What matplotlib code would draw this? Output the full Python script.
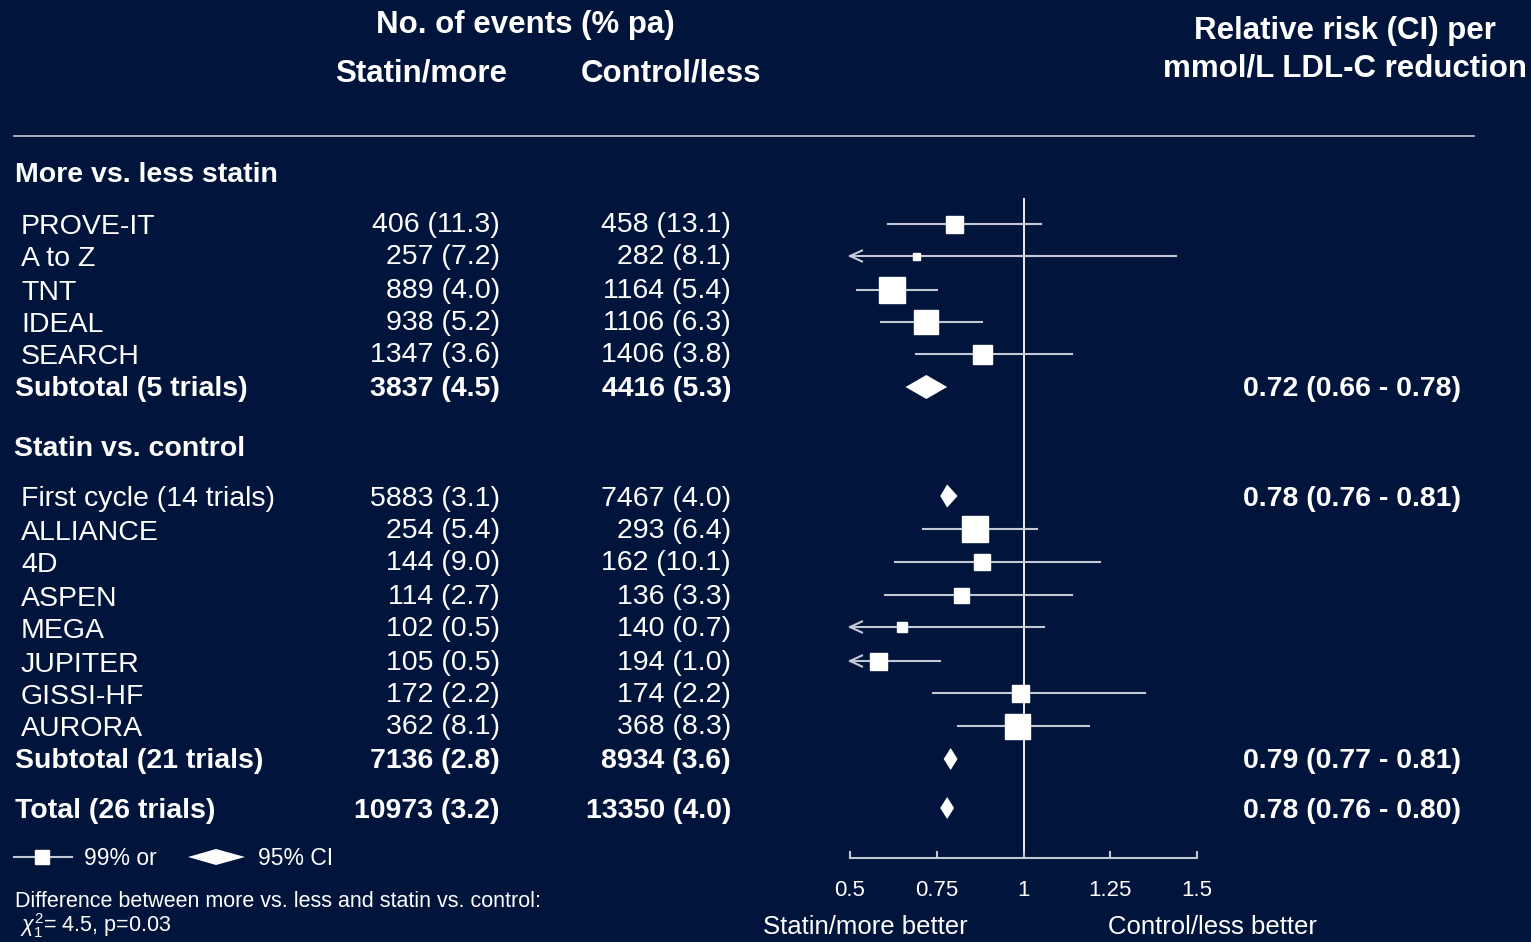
import matplotlib
matplotlib.use("Agg")
import matplotlib.pyplot as plt
from matplotlib.patches import Polygon

plt.rcParams["font.family"] = ["Liberation Sans", "DejaVu Sans"]
plt.rcParams["mathtext.fontset"] = "custom"
plt.rcParams["mathtext.rm"] = "Liberation Sans"
plt.rcParams["mathtext.it"] = "Liberation Sans:italic"

# ---------------- data ----------------
more_less_trials = ["PROVE-IT", "A to Z", "TNT", "IDEAL", "SEARCH"]
more_less_statin_events = [406, 257, 889, 938, 1347]
more_less_statin_rate = [11.3, 7.2, 4.0, 5.2, 3.6]
more_less_control_events = [458, 282, 1164, 1106, 1406]
more_less_control_rate = [13.1, 8.1, 5.4, 6.3, 3.8]
more_less_rr = [0.80, 0.69, 0.62, 0.72, 0.88]
more_less_lo = [0.61, 0.46, 0.52, 0.59, 0.69]
more_less_hi = [1.05, 1.44, 0.75, 0.88, 1.14]

statin_trials = ["ALLIANCE", "4D", "ASPEN", "MEGA", "JUPITER", "GISSI-HF", "AURORA"]
statin_statin_events = [254, 144, 114, 102, 105, 172, 362]
statin_statin_rate = [5.4, 9.0, 2.7, 0.5, 0.5, 2.2, 8.1]
statin_control_events = [293, 162, 136, 140, 194, 174, 368]
statin_control_rate = [6.4, 10.1, 3.3, 0.7, 1.0, 2.2, 8.3]
statin_rr = [0.86, 0.88, 0.82, 0.65, 0.58, 0.99, 0.98]
statin_lo = [0.71, 0.63, 0.60, 0.40, 0.42, 0.74, 0.81]
statin_hi = [1.04, 1.22, 1.14, 1.06, 0.76, 1.35, 1.19]

summary_labels = ["Subtotal (5 trials)", "First cycle (14 trials)",
                  "Subtotal (21 trials)", "Total (26 trials)"]
summary_statin_events = [3837, 5883, 7136, 10973]
summary_statin_rate = [4.5, 3.1, 2.8, 3.2]
summary_control_events = [4416, 7467, 8934, 13350]
summary_control_rate = [5.3, 4.0, 3.6, 4.0]
summary_rr = [0.72, 0.78, 0.79, 0.78]
summary_lo = [0.66, 0.76, 0.77, 0.76]
summary_hi = [0.78, 0.81, 0.81, 0.80]

x_ticks = [0.5, 0.75, 1, 1.25, 1.5]
x_tick_labels = ["0.5", "0.75", "1", "1.25", "1.5"]

# ---------------- layout & style ----------------
W, H = 1531, 942
BG = "#01153C"
FG = "#FFFFFF"
LINE = "#C3C8D4"
FS = 20.5
FS_HEAD = 22.5
TEXT_DY = 2.5

more_less_y = [224, 256, 290, 322, 354]
statin_y = [529, 562, 595, 627, 661, 693, 726]
summary_y = [387, 496, 759, 808]
more_less_box = [17, 7, 27, 24, 19]
statin_box = [27, 16, 15, 10, 17, 17, 25]
summary_h = [24, 23, 22, 22]
summary_bold = [True, False, True, True]

fig = plt.figure(figsize=(W / 100, H / 100), dpi=100, facecolor=BG)

# text layer in pixel coordinates
ax_t = fig.add_axes([0, 0, 1, 1], zorder=0)
ax_t.set_xlim(0, W)
ax_t.set_ylim(H, 0)
ax_t.axis("off")
ax_t.set_facecolor(BG)


def txt(x, y, s, size=FS, bold=False, ha="left", **kw):
    ax_t.text(x, y + TEXT_DY, s, fontsize=size, color=FG, ha=ha, va="center",
              fontweight="bold" if bold else "normal", **kw)


def fmt(n, r):
    return f"{n} ({r:.1f})"


# headers
txt(525, 22, "No. of events (% pa)", size=FS_HEAD, bold=True, ha="center")
txt(421, 71, "Statin/more", size=FS_HEAD, bold=True, ha="center")
txt(671, 71, "Control/less", size=FS_HEAD, bold=True, ha="center")
txt(1345, 28, "Relative risk (CI) per", size=FS_HEAD, bold=True, ha="center")
txt(1345, 66, "mmol/L LDL-C reduction", size=FS_HEAD, bold=True, ha="center")
ax_t.plot([14, 1474], [136, 136], color=LINE, lw=1.2)

txt(15, 172, "More vs. less statin", bold=True)
txt(14, 447, "Statin vs. control", bold=True)

X_NAME, X_BOLD, X_STATIN, X_CONTROL, X_RR = 21, 15, 500, 731, 1243

for name, y, se, sr, ce, cr in zip(more_less_trials, more_less_y,
                                   more_less_statin_events, more_less_statin_rate,
                                   more_less_control_events, more_less_control_rate):
    txt(X_NAME, y + 1, name)
    txt(X_STATIN, y - 1, fmt(se, sr), ha="right")
    txt(X_CONTROL, y - 1, fmt(ce, cr), ha="right")

for name, y, se, sr, ce, cr in zip(statin_trials, statin_y,
                                   statin_statin_events, statin_statin_rate,
                                   statin_control_events, statin_control_rate):
    txt(X_NAME, y + 1, name)
    txt(X_STATIN, y - 1, fmt(se, sr), ha="right")
    txt(X_CONTROL, y - 1, fmt(ce, cr), ha="right")

for lab, y, se, sr, ce, cr, rr, lo, hi, b in zip(
        summary_labels, summary_y, summary_statin_events, summary_statin_rate,
        summary_control_events, summary_control_rate,
        summary_rr, summary_lo, summary_hi, summary_bold):
    txt(X_BOLD if b else X_NAME, y, lab, bold=b)
    txt(X_STATIN, y, fmt(se, sr), bold=b, ha="right")
    txt(X_CONTROL, y, fmt(ce, cr), bold=b, ha="right")
    txt(X_RR, y, f"{rr:.2f} ({lo:.2f} - {hi:.2f})", bold=True)

# legend
ax_t.plot([14, 72], [857, 857], color=LINE, lw=1.5)
ax_t.plot([42], [857], marker="s", ms=14 * 0.72, color=FG, mec=FG)
ax_t.add_patch(Polygon([(188, 857), (216, 849), (245, 857), (216, 865)],
                       closed=True, color=FG, lw=0))
txt(84, 856, "99% or", size=16.5)
txt(258, 856, "95% CI", size=16.5)

txt(15, 899, "Difference between more vs. less and statin vs. control:", size=15.5)
txt(20, 923, r"$\chi^2_1$= 4.5, p=0.03", size=15.5)

txt(865, 924, "Statin/more better", size=18.5, ha="center")
txt(1212, 924, "Control/less better", size=18.5, ha="center")

# forest plot axes: x in relative-risk units, y in pixel rows
AX_L, AX_R, AX_TOP, AX_BOT = 850, 1197, 198, 858
ax = fig.add_axes([AX_L / W, (H - AX_BOT) / H, (AX_R - AX_L) / W,
                   (AX_BOT - AX_TOP) / H], zorder=1)
ax.patch.set_alpha(0)
xmin, xmax = x_ticks[0], x_ticks[-1]
ax.set_xlim(xmin, xmax)
ax.set_ylim(AX_BOT, AX_TOP)
for side in ("top", "left", "right"):
    ax.spines[side].set_visible(False)
ax.spines["bottom"].set_color(LINE)
ax.spines["bottom"].set_linewidth(1.5)
ax.set_yticks([])
ax.set_xticks(x_ticks)
ax.set_xticklabels(x_tick_labels)
ax.tick_params(axis="x", direction="in", length=5, width=1.5, color=LINE,
               labelcolor=FG, labelsize=16, pad=15.5)
for lab in ax.get_xticklabels():
    lab.set_fontfamily(["Liberation Sans", "DejaVu Sans"])

ax.axvline(1, color=FG, lw=1.3, zorder=1)

px_per_unit = (AX_R - AX_L) / (xmax - xmin)
head_len = 12 / px_per_unit
head_half = 5.5


def ci_row(y, rr, lo, hi, box):
    left = max(lo, xmin)
    ax.plot([left, hi], [y, y], color=LINE, lw=1.5, zorder=2, clip_on=False)
    if lo < xmin:
        ax.plot([xmin + head_len, xmin, xmin + head_len],
                [y - head_half, y, y + head_half],
                color=LINE, lw=1.5, zorder=2, clip_on=False)
    ax.plot([rr], [y], marker="s", ms=box * 0.72, color=FG, mec=FG,
            zorder=3, clip_on=False)


for y, rr, lo, hi, b in zip(more_less_y, more_less_rr, more_less_lo,
                            more_less_hi, more_less_box):
    ci_row(y, rr, lo, hi, b)
for y, rr, lo, hi, b in zip(statin_y, statin_rr, statin_lo,
                            statin_hi, statin_box):
    ci_row(y, rr, lo, hi, b)

for y, rr, lo, hi, h in zip(summary_y, summary_rr, summary_lo,
                            summary_hi, summary_h):
    ax.add_patch(Polygon([(lo, y), (rr, y - h / 2), (hi, y), (rr, y + h / 2)],
                         closed=True, color=FG, lw=0, zorder=3, clip_on=False))

fig.savefig("out.png", dpi=100, facecolor=BG)
